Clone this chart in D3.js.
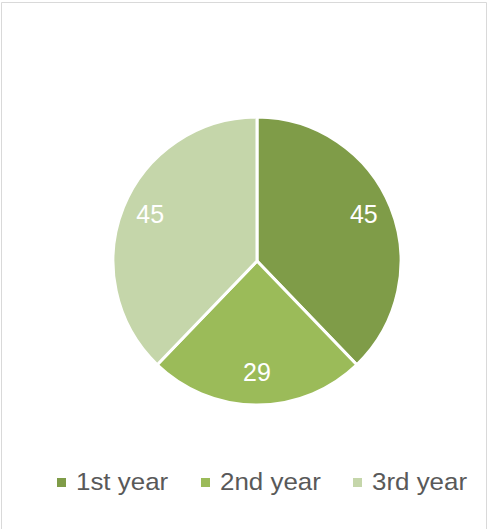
<!DOCTYPE html>
<html>
<head>
<meta charset="utf-8">
<script src="https://cdn.jsdelivr.net/npm/d3@7"></script>
<style>
  body { margin: 0; background: #fff; }
  svg { display: block; font-family: "Liberation Sans", Arial, sans-serif; }
</style>
</head>
<body>
<script>
var categories = ['1st year', '2nd year', '3rd year'];
var values = [45, 29, 45];
var colors = ['#7f9c48', '#9bbb59', '#c5d6aa'];

var width = 488;
var height = 529;
var cx = 257, cy = 261, radius = 144;

var svg = d3.select('body')
  .append('svg')
  .attr('width', width)
  .attr('height', height);

// chart frame
svg.append('path')
  .attr('d', 'M1.5,' + height + 'V2.5H486.5V' + height)
  .attr('fill', 'none')
  .attr('stroke', '#d9d9d9')
  .attr('stroke-width', 1);

var data = categories.map(function(c, i) {
  return { name: c, value: values[i], color: colors[i] };
});

var pie = d3.pie()
  .sort(null)
  .value(function(d) { return d.value; });

var arc = d3.arc()
  .innerRadius(0)
  .outerRadius(radius);

var g = svg.append('g')
  .attr('transform', 'translate(' + cx + ',' + cy + ')');

var arcs = pie(data);

g.selectAll('path.slice')
  .data(arcs)
  .enter()
  .append('path')
  .attr('class', 'slice')
  .attr('d', arc)
  .attr('fill', function(d) { return d.data.color; })
  .attr('stroke', '#fff')
  .attr('stroke-width', 3)
  .attr('stroke-linejoin', 'round');

var labelArc = d3.arc()
  .innerRadius(radius * 0.8)
  .outerRadius(radius * 0.8);

g.selectAll('text.label')
  .data(arcs)
  .enter()
  .append('text')
  .attr('class', 'label')
  .attr('transform', function(d) {
    var c = labelArc.centroid(d);
    return 'translate(' + c[0] + ',' + (c[1] - 4) + ')';
  })
  .attr('text-anchor', 'middle')
  .attr('dy', '0.36em')
  .attr('fill', '#fff')
  .style('font-size', '25px')
  .text(function(d) { return d.data.value; });

// legend
var legendX = [57, 201, 353];
var legend = svg.append('g')
  .selectAll('g')
  .data(data)
  .enter()
  .append('g')
  .attr('transform', function(d, i) { return 'translate(' + legendX[i] + ',478)'; });

legend.append('rect')
  .attr('width', 9)
  .attr('height', 9)
  .attr('fill', function(d) { return d.color; });

legend.append('text')
  .attr('transform', 'translate(19,12) scale(1.08,1)')
  .attr('fill', '#595959')
  .style('font-size', '24px')
  .text(function(d) { return d.name; });
</script>
</body>
</html>
